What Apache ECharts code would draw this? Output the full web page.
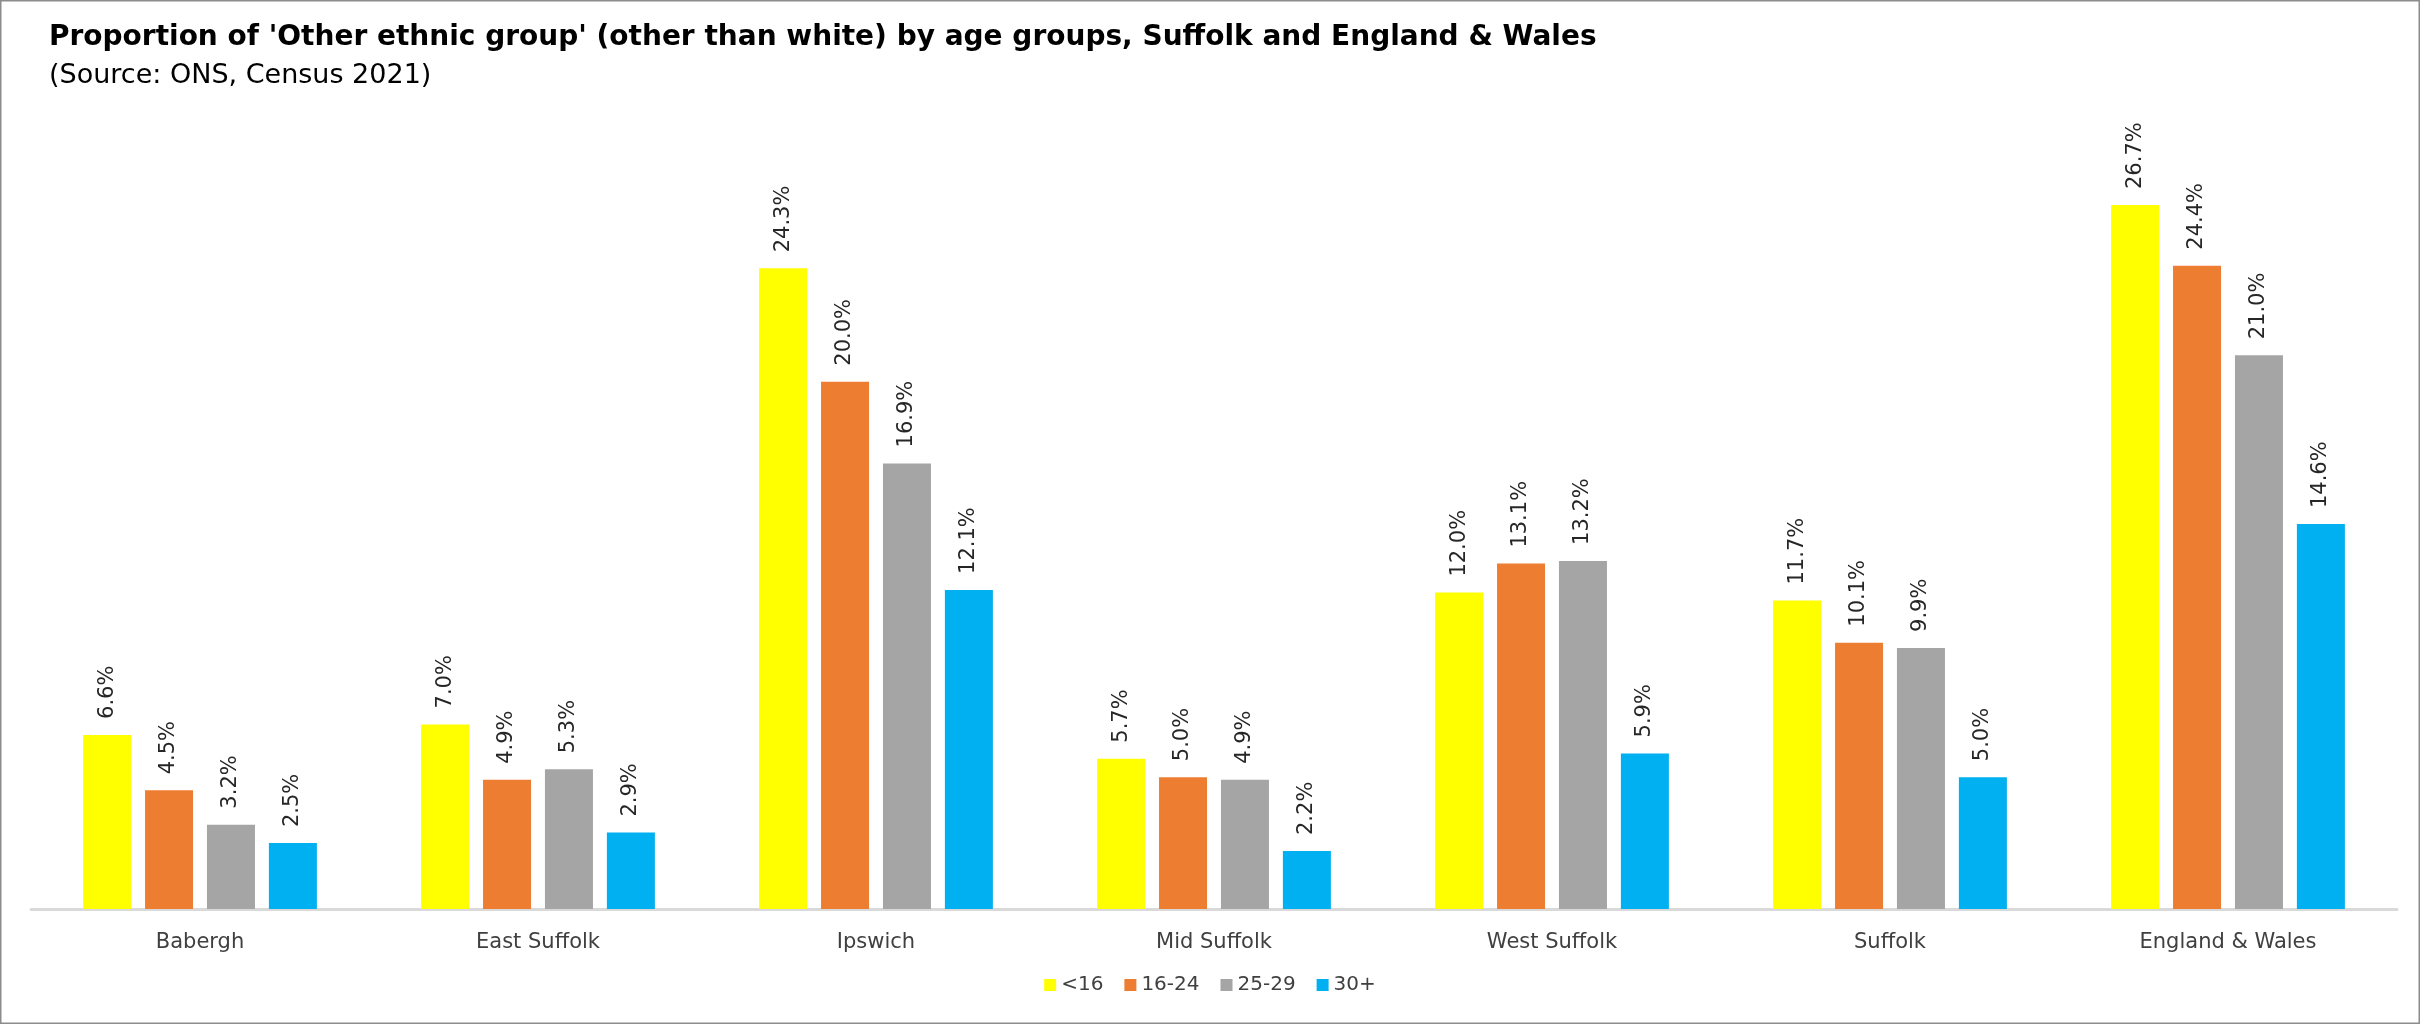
<!DOCTYPE html>
<html>
<head>
<meta charset="utf-8">
<script src="https://cdn.jsdelivr.net/npm/echarts@6/dist/echarts.min.js"></script>
<style>
  html, body { margin: 0; padding: 0; background: #fff; }
  #chart { width: 2420px; height: 1024px; }
</style>
</head>
<body>
<div id="chart"></div>
<script>
// Areas shown along the x axis
const areas = ['Babergh', 'East Suffolk', 'Ipswich', 'Mid Suffolk', 'West Suffolk', 'Suffolk', 'England & Wales'];

// Age bands (legend order)
const ageGroups = ['<16', '16-24', '25-29', '30+'];

// Share of residents in an 'Other ethnic group' (%), one array per age band
const under16 = [6.6, 7.0, 24.3, 5.7, 12.0, 11.7, 26.7];
const age16to24 = [4.5, 4.9, 20.0, 5.0, 13.1, 10.1, 24.4];
const age25to29 = [3.2, 5.3, 16.9, 4.9, 13.2, 9.9, 21.0];
const age30plus = [2.5, 2.9, 12.1, 2.2, 5.9, 5.0, 14.6];

const seriesValues = [under16, age16to24, age25to29, age30plus];
const seriesColors = ['#FFFF00', '#ED7D31', '#A5A5A5', '#00B0F0'];

const FONT = 'DejaVu Sans, Verdana, sans-serif';

const chart = echarts.init(document.getElementById('chart'), null, { renderer: 'canvas' });

chart.setOption({
  backgroundColor: '#ffffff',
  animation: false,
  title: [
    {
      text: "Proportion of 'Other ethnic group' (other than white) by age groups, Suffolk and England & Wales",
      left: 44, top: 19,
      textStyle: { fontFamily: FONT, fontSize: 28, fontWeight: 'bold', color: '#000000' }
    },
    {
      text: '(Source: ONS, Census 2021)',
      left: 44, top: 57,
      textStyle: { fontFamily: FONT, fontSize: 27, fontWeight: 'normal', color: '#000000' }
    }
  ],
  legend: {
    data: ageGroups,
    bottom: 24,
    left: 'center',
    icon: 'rect',
    itemWidth: 12,
    itemHeight: 12,
    itemGap: 21,
    textStyle: { fontFamily: FONT, fontSize: 20, color: '#404040' }
  },
  grid: { left: 31, right: 23, top: 118, bottom: 115, containLabel: false },
  xAxis: {
    type: 'category',
    data: areas,
    axisLine: { lineStyle: { color: '#D9D9D9', width: 3 } },
    axisTick: { show: false },
    axisLabel: { fontFamily: FONT, fontSize: 21, color: '#404040', margin: 23 }
  },
  yAxis: {
    type: 'value',
    min: 0, max: 30, interval: 5,
    show: false,
    splitLine: { show: false }
  },
  series: ageGroups.map((name, i) => ({
    name: name,
    type: 'bar',
    data: seriesValues[i],
    barWidth: 48,
    barGap: '29%',
    itemStyle: { color: seriesColors[i] },
    label: {
      show: true,
      position: 'top',
      rotate: 90,
      align: 'left',
      verticalAlign: 'middle',
      distance: 16,
      fontFamily: FONT,
      fontSize: 21,
      color: '#262626',
      formatter: p => p.value.toFixed(1) + '%'
    }
  })),
  graphic: [
    {
      type: 'rect',
      shape: { x: 0.5, y: 0.5, width: 2419, height: 1023 },
      style: { fill: 'none', stroke: '#8C8C8C', lineWidth: 2 },
      silent: true
    }
  ]
});
</script>
</body>
</html>
